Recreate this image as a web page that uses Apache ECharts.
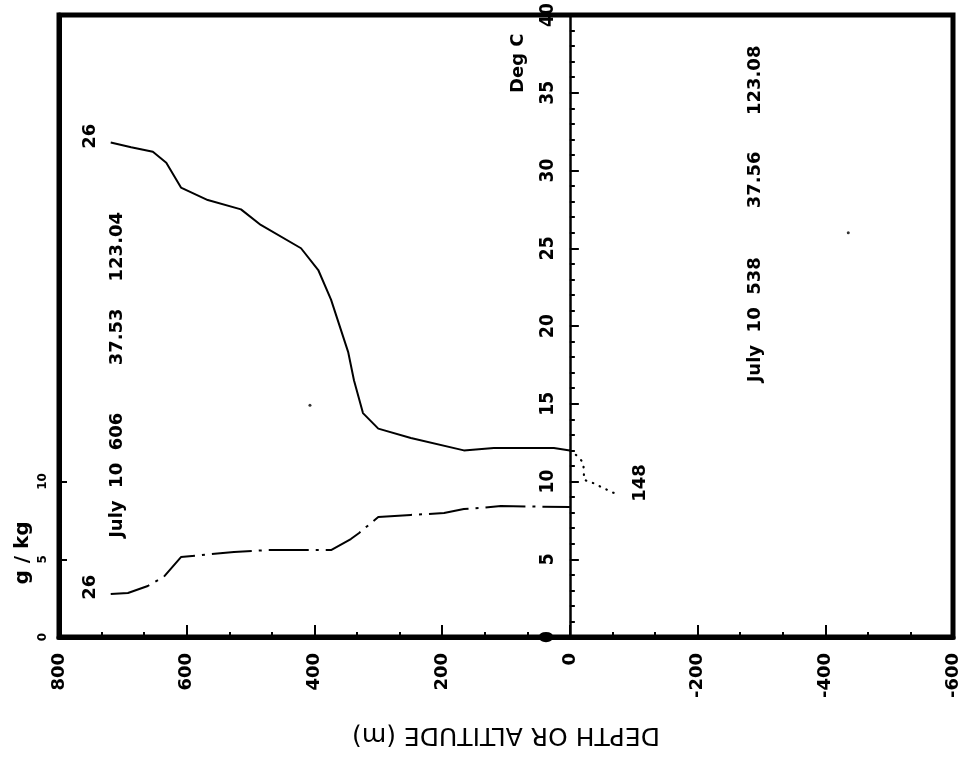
<!DOCTYPE html>
<html><head><meta charset="utf-8">
<script src="https://cdn.jsdelivr.net/npm/echarts@6/dist/echarts.min.js"></script>
<style>html,body{margin:0;padding:0;background:#fff}#c{width:965px;height:761px}</style>
</head><body><div id="c"></div>
<script>
// Depth or altitude (m); positive = depth, negative = altitude
const tempDepth = [719,687,653,632,609,567,515,484,421,394,374,347,338,324,300,249,166,119,25,0];
const tempValue = [31.8,31.5,31.2,30.5,28.9,28.1,27.5,26.5,25.0,23.6,21.7,18.3,16.5,14.4,13.4,12.8,12.0,12.15,12.15,12.0];
const humDepth = [719,692,661,636,609,578,526,473,387,374,343,330,300,249,197,166,139,108,0];
const humValue = [2.77,2.83,3.28,3.86,5.14,5.27,5.47,5.59,5.59,5.59,6.30,6.69,7.72,7.85,7.97,8.23,8.30,8.42,8.36];
const altDepth = [0,-13,-21,-22,-22,-33,-49,-69];
const altTemp = [12.0,11.6,11.2,10.6,10.1,9.97,9.65,9.26];
const noteText = ['26','26','123.04','37.53','July  10  606','123.08','37.56','July  10  538','148','Deg C'];
const noteDepth = [751,751,708,708,708,-290,-290,-290,-111,81];
const noteValue = [32.2,3.2,25.1,19.3,10.4,35.8,29.4,20.4,9.9,36.9];
const speckDepth = [407,-436];
const speckValue = [14.9,26.0];
const gkgLabels = [0,5,10];

const zip = (a,b) => a.map((v,i)=>[v,b[i]]);
const FONT = 'DejaVu Sans';
const chart = echarts.init(document.getElementById('c'), null, {renderer:'canvas'});
chart.setOption({
  animation:false,
  backgroundColor:'#fff',
  textStyle:{fontFamily:FONT},
  grid:{left:59,right:12,top:15,bottom:124,show:true,borderColor:'#000',borderWidth:5,backgroundColor:'transparent'},
  xAxis:{
    type:'value',min:-600,max:800,interval:200,inverse:true,position:'bottom',
    axisLine:{onZero:false,lineStyle:{color:'#000',width:5}},
    axisTick:{inside:true,length:12,lineStyle:{color:'#000',width:2}},
    minorTick:{show:true,splitNumber:3,length:5,lineStyle:{color:'#000',width:2}},
    splitLine:{show:false},
    axisLabel:{rotate:90,margin:16,fontSize:18,fontWeight:'bold',color:'#000',fontFamily:FONT},
    name:'DEPTH OR ALTITUDE (m)',nameLocation:'middle',nameRotate:180,nameGap:85,
    nameTextStyle:{fontSize:25,color:'#000',fontFamily:FONT}
  },
  yAxis:[{
    type:'value',min:0,max:40,interval:5,position:'left',offset:0,
    axisLine:{onZero:false,lineStyle:{color:'#000',width:2.5}},
    axisTick:{inside:true,length:9,lineStyle:{color:'#000',width:2}},
    minorTick:{show:true,splitNumber:5,length:5,lineStyle:{color:'#000',width:2}},
    splitLine:{show:false},
    axisLabel:{rotate:90,margin:12,fontSize:19,fontWeight:'bold',color:'#000',
      fontFamily:"'Liberation Sans Narrow','DejaVu Sans Condensed','Liberation Sans'"}
  },{
    type:'value',min:0,max:40,interval:5,position:'left',
    axisLine:{onZero:false,lineStyle:{color:'#000',width:5}},
    axisTick:{inside:true,length:8,customValues:gkgLabels,lineStyle:{color:'#000',width:2}},
    splitLine:{show:false},
    axisLabel:{rotate:90,margin:10,fontSize:12,fontWeight:'bold',color:'#000',customValues:gkgLabels,fontFamily:FONT}
  }],
  graphic:[{
    type:'text',x:23,y:553,rotation:Math.PI/2,silent:true,
    style:{text:'g / kg',font:'bold 20px '+FONT,fill:'#000',align:'center',verticalAlign:'middle',textAlign:'center',textVerticalAlign:'middle'}
  }],
  series:[{
    name:'Temperature',type:'line',xAxisIndex:0,yAxisIndex:0,data:zip(tempDepth,tempValue),
    showSymbol:false,symbol:'none',lineStyle:{color:'#000',width:2},silent:true
  },{
    name:'Specific humidity',type:'line',xAxisIndex:0,yAxisIndex:1,data:zip(humDepth,humValue),
    showSymbol:false,symbol:'none',lineStyle:{color:'#000',width:2,type:[40,7,3,7]},silent:true
  },{
    name:'Air temperature',type:'line',xAxisIndex:0,yAxisIndex:0,data:zip(altDepth,altTemp),
    showSymbol:false,symbol:'none',lineStyle:{color:'#000',width:2.2,type:[0.5,7],cap:'round'},silent:true
  },{
    name:'specks',type:'scatter',xAxisIndex:0,yAxisIndex:0,data:zip(speckDepth,speckValue),
    symbolSize:3,itemStyle:{color:'#000'},silent:true
  },{
    name:'notes',type:'scatter',xAxisIndex:0,yAxisIndex:0,
    data:noteText.map((t,i)=>[noteDepth[i],noteValue[i],t]),
    symbolSize:0,itemStyle:{color:'#000',opacity:0},silent:true,
    label:{show:true,position:'inside',rotate:90,formatter:p=>p.data[2],opacity:1,
      textBorderWidth:0,fontSize:18,fontWeight:'bold',color:'#000',fontFamily:FONT}
  }]
});
// Place the temperature axis at depth 0
const px0 = chart.convertToPixel({xAxisIndex:0}, 0);
const pxL = chart.convertToPixel({xAxisIndex:0}, 800);
chart.setOption({yAxis:[{offset:-(px0-pxL)},{}]});
</script></body></html>
